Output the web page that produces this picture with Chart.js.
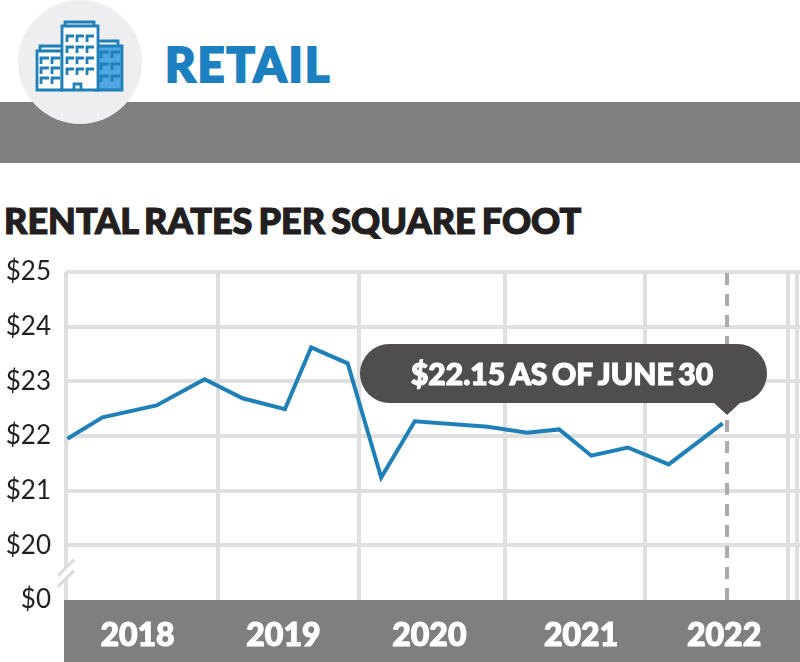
<!doctype html>
<html>
	<head>
		<title>Retail rental rates</title>
		<meta charset="utf-8">
		<script src="https://cdnjs.cloudflare.com/ajax/libs/Chart.js/4.4.1/chart.umd.js"></script>
		<style>
			html, body { margin: 0; padding: 0; background: #fff; }
			#page { position: relative; width: 800px; height: 662px; overflow: hidden; font-family: Lato, sans-serif; }
			#band { position: absolute; left: 0; top: 102px; width: 800px; height: 61px; background: #808080; }
			#disc { position: absolute; left: 18px; top: 0; width: 124px; height: 124px; border-radius: 50%; background: #eeeef0; }
			#icon { position: absolute; left: 34px; top: 20px; }
			#section { position: absolute; left: 165px; top: 35px; font-size: 47px; line-height: 58px; font-weight: 900; color: #1c7fbf; letter-spacing: 2px; -webkit-text-stroke: 2px #1c7fbf; }
			#title { position: absolute; left: 4px; top: 198px; font-size: 36px; line-height: 44px; font-weight: 900; color: #231f20; white-space: nowrap; word-spacing: -2.5px; -webkit-text-stroke: 1.2px #231f20; }
			#wrap { position: absolute; left: 0; top: 0; width: 800px; height: 662px; }
		</style>
	</head>
	<body>
		<div id="page">
			<div id="band"></div>
			<div id="disc"></div>
			<svg id="icon" width="92" height="72" viewBox="0 0 92 72" fill="none" stroke="#1f80b8" stroke-width="2.8">
				<path d="M62 26h26v44H62z" fill="#4fa6e2"/>
				<path d="M62 26v-5h22v5" />
				<path d="M3 31h25v39H3z" fill="#fff"/>
				<path d="M6 31v-5h22" />
				<path d="M28 6h36v64H28z" fill="#fff"/>
				<path d="M31 6V2h29v4" />
				<path d="M40 70v-6h7v6" />
				<path d="M33 22v-6h7M43 22v-6h7M53 22v-6h7M33 33v-6h7M43 33v-6h7M53 33v-6h7M33 44v-6h7M43 44v-6h7M53 44v-6h7M33 55v-6h7M43 55v-6h7M53 55v-6h7" />
				<path d="M7 44v-6h8M18 44v-6h8M7 54v-6h8M18 54v-6h8M7 64v-6h8M18 64v-6h8" />
				<path d="M67 38v-6h8M78 38v-6h8M67 50v-6h8M78 50v-6h8M67 62v-6h8M78 62v-6h8" />
			</svg>
			<div id="section">RETAIL</div>
			<div id="title">RENTAL RATES PER SQUARE FOOT</div>
			<div id="wrap"><canvas id="canvas" width="800" height="662"></canvas></div>
		</div>

<script>
// values, x in decimal years
var rateX = [2018.01, 2018.25, 2018.62, 2018.95, 2019.21, 2019.50, 2019.68, 2019.93, 2020.16, 2020.39, 2020.89, 2021.16, 2021.38, 2021.60, 2021.85, 2022.13, 2022.50];
var rateY = [21.95, 22.34, 22.56, 23.04, 22.69, 22.49, 23.62, 23.33, 21.24, 22.27, 22.17, 22.06, 22.12, 21.64, 21.79, 21.48, 22.23];

var yearLabels = ["2018", "2019", "2020", "2021", "2022"];
var yearCenters = [2018.49, 2019.49, 2020.49, 2021.53, 2022.51];
var yearGrid = [2018.0, 2019.04, 2020.01, 2021.01, 2021.97, 2022.95, 2023.01];

// the bottom tick (19) stands in for $0 below the axis break
var yTicks = [19, 20, 21, 22, 23, 24, 25];
var yLabels = ["$0", "$20", "$21", "$22", "$23", "$24", "$25"];

var markerX = 2022.53;
var markerY = [19, 25];
var calloutText = "$22.15 AS OF JUNE 30";

var decorations = {
	id: 'decorations',
	beforeDraw: function(chart) {
		var c = chart.ctx, a = chart.chartArea;
		c.save();
		c.fillStyle = '#7f7f7f';
		c.fillRect(a.left - 2, a.bottom, a.right - a.left + 2, chart.height - a.bottom);
		c.restore();
	},
	beforeDatasetsDraw: function(chart) {
		// axis break
		var c = chart.ctx, a = chart.chartArea;
		var y = chart.scales.y.getPixelForValue(19.5);
		c.save();
		c.fillStyle = '#fff';
		c.beginPath();
		c.moveTo(a.left - 4, y - 1);
		c.lineTo(a.left + 4, y - 9);
		c.lineTo(a.left + 4, y + 2);
		c.lineTo(a.left - 4, y + 10);
		c.closePath();
		c.fill();
		c.strokeStyle = '#dcdcdc';
		c.lineWidth = 3;
		[0, 11].forEach(function(d) {
			c.beginPath();
			c.moveTo(a.left - 8, y + 3 + d);
			c.lineTo(a.left + 8, y - 13 + d);
			c.stroke();
		});
		c.restore();
	},
	afterDatasetsDraw: function(chart) {
		var c = chart.ctx;
		var left = 360, right = 767, top = 344, bottom = 403, r = 29.5;
		var tipX = chart.scales.x.getPixelForValue(markerX);
		var tipY = 415;
		c.save();
		c.fillStyle = '#4f4d4e';
		c.beginPath();
		c.roundRect(left, top, right - left, bottom - top, r);
		c.fill();
		c.beginPath();
		c.moveTo(tipX - 14, bottom - 1);
		c.lineTo(tipX, tipY);
		c.lineTo(tipX + 14, bottom - 1);
		c.closePath();
		c.fill();
		c.fillStyle = '#fff';
		c.strokeStyle = '#fff';
		c.lineWidth = 1.2;
		c.font = '900 30px Lato, sans-serif';
		c.wordSpacing = '-2.5px';
		c.textAlign = 'center';
		c.textBaseline = 'middle';
		c.fillText(calloutText, 562, 375);
		c.strokeText(calloutText, 562, 375);
		c.restore();
	}
};

new Chart(document.getElementById('canvas'), {
	type: 'line',
	plugins: [decorations],
	data: {
		datasets: [{
			data: rateX.map(function(x, i) { return { x: x, y: rateY[i] }; }),
			borderColor: '#1f80b8',
			borderWidth: 4,
			pointRadius: 0,
			tension: 0,
			borderJoinStyle: 'miter',
			order: 1
		}, {
			data: markerY.map(function(y) { return { x: markerX, y: y }; }),
			borderColor: '#ababab',
			borderWidth: 4,
			borderDash: [12, 9],
			pointRadius: 0,
			order: 2
		}]
	},
	options: {
		responsive: false,
		animation: false,
		events: [],
		layout: { padding: { top: 272, right: 0, bottom: 0, left: 0 } },
		plugins: { legend: { display: false }, tooltip: { enabled: false } },
		scales: {
			y: {
				type: 'linear',
				min: 19,
				max: 25,
				afterFit: function(s) { s.width = 66; },
				afterBuildTicks: function(s) { s.ticks = yTicks.map(function(v) { return { value: v }; }); },
				grid: {
					color: function(ctx) { return ctx.tick && ctx.tick.value === 19 ? 'transparent' : '#dfdfdf'; },
					lineWidth: 4,
					drawTicks: false
				},
				border: { display: false },
				ticks: {
					padding: 15,
					autoSkip: false,
					color: '#231f20',
					font: { family: 'Lato, sans-serif', size: 26 },
					callback: function(v) { return yLabels[yTicks.indexOf(v)]; }
				}
			},
			x: {
				type: 'linear',
				position: 'bottom',
				min: 2018,
				max: 2023.03,
				afterFit: function(s) { s.height = 62; },
				afterBuildTicks: function(s) { s.ticks = yearCenters.map(function(v) { return { value: v }; }); },
				grid: { display: false },
				border: { display: false },
				ticks: {
					padding: 8,
					autoSkip: false,
					maxRotation: 0,
					color: '#fff',
					textStrokeColor: '#fff',
					textStrokeWidth: 1.2,
					font: { family: 'Lato, sans-serif', size: 32, weight: '900' },
					callback: function(v) { return yearLabels[yearCenters.indexOf(v)]; }
				}
			},
			xGrid: {
				type: 'linear',
				position: 'top',
				min: 2018,
				max: 2023.03,
				afterFit: function(s) { s.height = 0; },
				afterBuildTicks: function(s) { s.ticks = yearGrid.map(function(v) { return { value: v }; }); },
				grid: { color: '#dfdfdf', lineWidth: 4, drawTicks: false },
				border: { display: false },
				ticks: { display: false }
			}
		}
	}
});
</script>
	</body>
</html>
